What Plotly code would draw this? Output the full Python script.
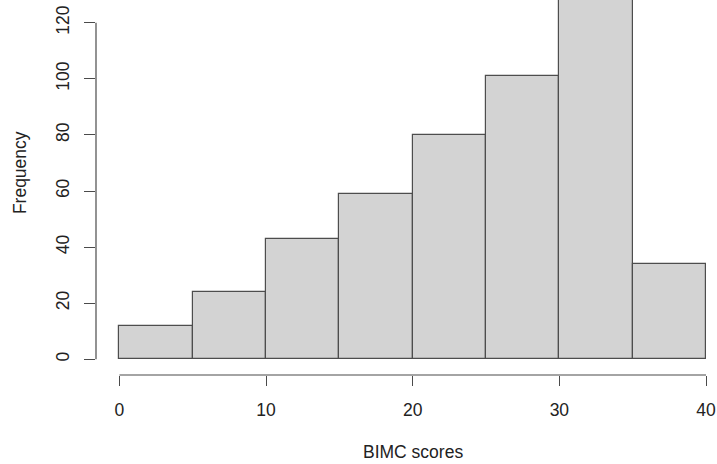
import plotly.graph_objects as go

bin_edges = [0, 5, 10, 15, 20, 25, 30, 35, 40]
counts = [12, 24, 43, 59, 80, 101, 140, 34]
x_ticks = [0, 10, 20, 30, 40]
y_ticks = [0, 20, 40, 60, 80, 100, 120]
x_title = "BIMC scores"
y_title = "Frequency"

mids = [(a + b) / 2 for a, b in zip(bin_edges[:-1], bin_edges[1:])]
widths = [b - a for a, b in zip(bin_edges[:-1], bin_edges[1:])]

FONT = "Liberation Sans, Arial, Helvetica, sans-serif"
AX = "#4a4a4a"
FS = 17.5

fig = go.Figure(go.Bar(
    x=mids, y=counts, width=widths,
    marker=dict(color="#D3D3D3", line=dict(color="#4d4d4d", width=1.2)),
    hoverinfo="x+y",
))

fig.update_layout(
    width=717, height=464,
    margin=dict(l=96, r=0, t=0, b=89),
    paper_bgcolor="white", plot_bgcolor="white",
    showlegend=False, bargap=0,
    font=dict(family=FONT, size=FS, color="#222222"),
)
fig.update_xaxes(
    range=[-1.6, 40.75], tickvals=x_ticks, ticktext=[str(v) for v in x_ticks],
    ticks="outside", ticklen=10, tickwidth=1.2, tickcolor=AX,
    showline=False, showgrid=False, zeroline=False,
    ticklabelstandoff=9, tickfont=dict(size=FS),
)
fig.update_yaxes(
    range=[-5.6, 128.1], tickvals=y_ticks, ticktext=[str(v) for v in y_ticks],
    ticks="outside", ticklen=11, tickwidth=1.2, tickcolor=AX,
    showline=False, showgrid=False, zeroline=False,
    tickangle=-90, ticklabelstandoff=8, tickfont=dict(size=FS),
)
# R-style axis lines spanning only first to last tick
fig.add_shape(type="line", xref="x", yref="paper", x0=x_ticks[0], x1=x_ticks[-1], y0=0, y1=0,
              line=dict(color=AX, width=1.2))
fig.add_shape(type="line", xref="paper", yref="y", x0=0, x1=0, y0=y_ticks[0], y1=y_ticks[-1],
              line=dict(color=AX, width=1.2))

fig.add_annotation(text=x_title, xref="x", yref="paper",
                   x=(bin_edges[0] + bin_edges[-1]) / 2, y=-0.205,
                   showarrow=False, yanchor="middle", font=dict(size=FS))
fig.add_annotation(text=y_title, xref="paper", yref="paper",
                   x=-0.122, y=0.539, textangle=-90,
                   showarrow=False, xanchor="center", yanchor="middle", font=dict(size=FS))

fig.write_html("out.html", config={"displayModeBar": False},
               post_script="document.body.style.margin='0';document.body.style.overflow='hidden';")
